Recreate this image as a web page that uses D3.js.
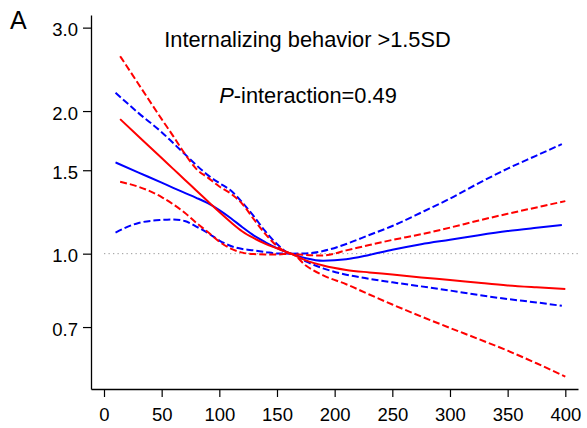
<!DOCTYPE html>
<html>
<head>
<meta charset="utf-8">
<script src="https://cdn.jsdelivr.net/npm/d3@7"></script>
<style>
  html, body { margin: 0; padding: 0; background: #fff; }
  svg { display: block; font-family: "Liberation Sans", Arial, sans-serif; }
</style>
</head>
<body>
<div id="chart"></div>
<script>
// ---- data ----
const xTicks = [0, 50, 100, 150, 200, 250, 300, 350, 400];
const yTicks = [0.7, 1.0, 1.5, 2.0, 3.0];
const yTickLabels = ["0.7", "1.0", "1.5", "2.0", "3.0"];

const xBlue  = [10, 30, 50, 60, 70, 80, 90, 100, 110, 120, 130, 140, 150, 162, 175, 190, 210, 230, 250, 275, 300, 325, 350, 375, 397];
const blueEst = [1.558, 1.483, 1.412, 1.377, 1.344, 1.312, 1.278, 1.236, 1.188, 1.137, 1.092, 1.057, 1.027, 1.0, 0.978, 0.966, 0.973, 0.994, 1.019, 1.047, 1.070, 1.094, 1.116, 1.134, 1.149];
const blueHi  = [2.187, 1.980, 1.805, 1.712, 1.623, 1.538, 1.465, 1.409, 1.359, 1.282, 1.198, 1.114, 1.048, 1.0, 1.001, 1.013, 1.048, 1.095, 1.144, 1.221, 1.307, 1.409, 1.512, 1.611, 1.703];
const blueLo  = [1.108, 1.161, 1.178, 1.181, 1.172, 1.141, 1.106, 1.066, 1.038, 1.023, 1.016, 1.008, 1.001, 1.0, 0.963, 0.931, 0.903, 0.885, 0.870, 0.853, 0.836, 0.818, 0.802, 0.789, 0.776];

const xRed   = [14, 30, 50, 60, 70, 80, 90, 100, 110, 120, 130, 140, 150, 162, 175, 190, 210, 230, 250, 275, 300, 325, 350, 375, 400];
const redEst = [1.923, 1.768, 1.592, 1.510, 1.433, 1.359, 1.290, 1.224, 1.165, 1.114, 1.078, 1.049, 1.026, 1.0, 0.968, 0.944, 0.924, 0.913, 0.904, 0.891, 0.880, 0.868, 0.857, 0.849, 0.842];
const redHi  = [2.611, 2.279, 1.923, 1.771, 1.626, 1.510, 1.447, 1.386, 1.339, 1.273, 1.181, 1.100, 1.038, 1.0, 0.994, 0.991, 1.016, 1.043, 1.069, 1.099, 1.135, 1.175, 1.214, 1.252, 1.291];
const redLo  = [1.418, 1.384, 1.317, 1.271, 1.220, 1.162, 1.111, 1.060, 1.025, 1.005, 0.998, 0.996, 0.996, 1.0, 0.944, 0.900, 0.862, 0.820, 0.781, 0.737, 0.697, 0.660, 0.624, 0.587, 0.550];

const panelLabel = "A";
const titleText = "Internalizing behavior >1.5SD";
const pLabel = "P";
const pRest = "-interaction=0.49";

// ---- drawing ----
const W = 587, H = 428;
const svg = d3.select("#chart").append("svg").attr("width", W).attr("height", H);
svg.append("rect").attr("width", W).attr("height", H).attr("fill", "#fff");

const x = d3.scaleLinear().domain([-11.27, 411]).range([91, 578]);
const y = d3.scaleLog().domain([0.518, 3.19]).range([389, 15]);

// reference line
svg.append("line")
  .attr("x1", x(0)).attr("x2", x.range()[1])
  .attr("y1", y(1)).attr("y2", y(1))
  .attr("stroke", "#9a9a9a").attr("stroke-width", 1)
  .attr("stroke-dasharray", "1.3,3.2");

// axes
const xAxis = svg.append("g").attr("transform", "translate(0,389)")
  .call(d3.axisBottom(x).tickValues(xTicks).tickSize(8).tickSizeOuter(0));
xAxis.select(".domain").attr("stroke", "#000").attr("stroke-width", 1.3);
xAxis.selectAll(".tick line").attr("stroke", "#000").attr("stroke-width", 1.2);
xAxis.selectAll(".tick text").attr("y", 32).attr("dy", 0)
  .attr("font-size", 18.5).attr("fill", "#000").attr("font-family", "Liberation Sans, Arial, sans-serif");

const yAxis = svg.append("g").attr("transform", "translate(91,0)")
  .call(d3.axisLeft(y).tickValues(yTicks).tickFormat(d => yTickLabels[yTicks.indexOf(d)]).tickSize(8).tickSizeOuter(0));
yAxis.select(".domain").attr("stroke", "#000").attr("stroke-width", 1.3);
yAxis.selectAll(".tick line").attr("stroke", "#000").attr("stroke-width", 1.2);
yAxis.selectAll(".tick text").attr("x", -13).attr("dy", 8)
  .attr("font-size", 18.5).attr("fill", "#000").attr("font-family", "Liberation Sans, Arial, sans-serif");

// curves
function drawLine(xs, ys, color, dashed) {
  const pts = xs.map((d, i) => [d, ys[i]]);
  const gen = d3.line().x(d => x(d[0])).y(d => y(d[1])).curve(d3.curveMonotoneX);
  svg.append("path").attr("d", gen(pts))
    .attr("fill", "none").attr("stroke", color)
    .attr("stroke-width", 2)
    .attr("stroke-dasharray", dashed ? "7,3" : null);
}
drawLine(xBlue, blueHi, "#0000ff", true);
drawLine(xBlue, blueLo, "#0000ff", true);
drawLine(xBlue, blueEst, "#0000ff", false);
drawLine(xRed, redHi, "#ff0000", true);
drawLine(xRed, redLo, "#ff0000", true);
drawLine(xRed, redEst, "#ff0000", false);

// texts
svg.append("text").attr("x", 10).attr("y", 29).attr("font-size", 25).attr("fill", "#000").text(panelLabel);
svg.append("text").attr("x", 307.5).attr("y", 47).attr("text-anchor", "middle")
  .attr("font-size", 21.8).attr("fill", "#000").text(titleText);
const pt = svg.append("text").attr("x", 308).attr("y", 103).attr("text-anchor", "middle")
  .attr("font-size", 21.8).attr("fill", "#000");
pt.append("tspan").attr("font-style", "italic").text(pLabel);
pt.append("tspan").text(pRest);
</script>
</body>
</html>
